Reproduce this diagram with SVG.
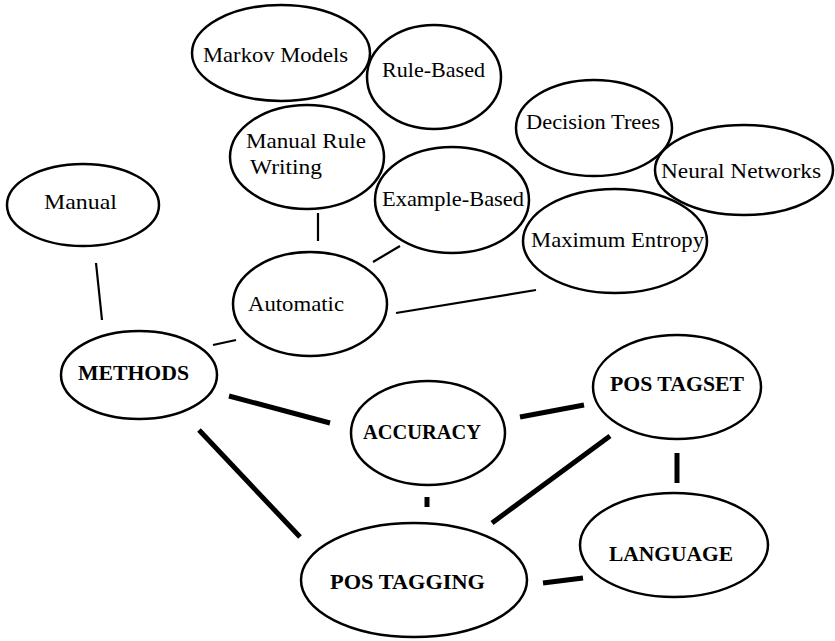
<svg xmlns="http://www.w3.org/2000/svg" width="835" height="641" viewBox="0 0 835 641">
<style>
ellipse{fill:#fff;stroke:#000;stroke-width:2.5}
text{font-family:"Liberation Serif","DejaVu Serif",serif;font-size:22px;fill:#000}
.b{font-weight:bold;font-size:21px}
.thin{stroke:#000;stroke-width:2.2}
.thick{stroke:#000;stroke-width:5}
</style>
<rect width="835" height="641" fill="#fff"/>
<g id="connectors">
<line class="thin" x1="96" y1="263" x2="102" y2="320"/>
<line class="thin" x1="318" y1="213" x2="318" y2="241"/>
<line class="thin" x1="373" y1="262" x2="400" y2="246"/>
<line class="thin" x1="396" y1="313" x2="536" y2="290"/>
<line class="thin" x1="213" y1="345" x2="236" y2="340"/>
<line class="thick" x1="229" y1="396" x2="330" y2="423"/>
<line class="thick" x1="199" y1="430" x2="300" y2="537"/>
<line class="thick" x1="520" y1="417" x2="584" y2="405"/>
<line class="thick" x1="492" y1="523" x2="610" y2="436"/>
<line class="thick" x1="677" y1="453" x2="677" y2="483"/>
<line class="thick" x1="427" y1="497" x2="427" y2="507"/>
<line class="thick" x1="543" y1="583" x2="583" y2="578"/>
</g>
<g id="markov"><ellipse cx="281" cy="53" rx="89" ry="48"/><text x="203" y="62" textLength="145" lengthAdjust="spacingAndGlyphs">Markov Models</text></g>
<g id="rulebased"><ellipse cx="434" cy="77" rx="67" ry="52"/><text x="382" y="77" textLength="103" lengthAdjust="spacingAndGlyphs">Rule-Based</text></g>
<g id="manualrule"><ellipse cx="307" cy="157" rx="77" ry="52"/><text x="246" y="148" textLength="120" lengthAdjust="spacingAndGlyphs">Manual Rule</text><text x="250" y="174" textLength="72" lengthAdjust="spacingAndGlyphs">Writing</text></g>
<g id="decision"><ellipse cx="594" cy="128" rx="78" ry="48"/><text x="526" y="129" textLength="134" lengthAdjust="spacingAndGlyphs">Decision Trees</text></g>
<g id="neural"><ellipse cx="744" cy="170" rx="89" ry="45"/><text x="661" y="178" textLength="160" lengthAdjust="spacingAndGlyphs">Neural Networks</text></g>
<g id="manual"><ellipse cx="83" cy="205" rx="76" ry="41"/><text x="44" y="209" textLength="73" lengthAdjust="spacingAndGlyphs">Manual</text></g>
<g id="example"><ellipse cx="452" cy="200" rx="77" ry="53"/><text x="382" y="206" textLength="142" lengthAdjust="spacingAndGlyphs">Example-Based</text></g>
<g id="maxent"><ellipse cx="615" cy="241" rx="92" ry="52"/><text x="531" y="247" textLength="173" lengthAdjust="spacingAndGlyphs">Maximum Entropy</text></g>
<g id="automatic"><ellipse cx="310" cy="304" rx="77" ry="52"/><text x="248" y="311" textLength="96" lengthAdjust="spacingAndGlyphs">Automatic</text></g>
<g id="methods"><ellipse cx="139" cy="375" rx="78" ry="44"/><text class="b" x="78" y="380" textLength="111" lengthAdjust="spacingAndGlyphs">METHODS</text></g>
<g id="accuracy"><ellipse cx="428" cy="433" rx="77" ry="52"/><text class="b" x="363" y="439" textLength="118" lengthAdjust="spacingAndGlyphs">ACCURACY</text></g>
<g id="postagset"><ellipse cx="677" cy="387" rx="84" ry="52"/><text class="b" x="610" y="391" textLength="134" lengthAdjust="spacingAndGlyphs">POS TAGSET</text></g>
<g id="language"><ellipse cx="674" cy="545" rx="94" ry="52"/><text class="b" x="609" y="561" textLength="124" lengthAdjust="spacingAndGlyphs">LANGUAGE</text></g>
<g id="postagging"><ellipse cx="414" cy="580" rx="113" ry="57"/><text class="b" x="330" y="589" textLength="155" lengthAdjust="spacingAndGlyphs">POS TAGGING</text></g>
</svg>
